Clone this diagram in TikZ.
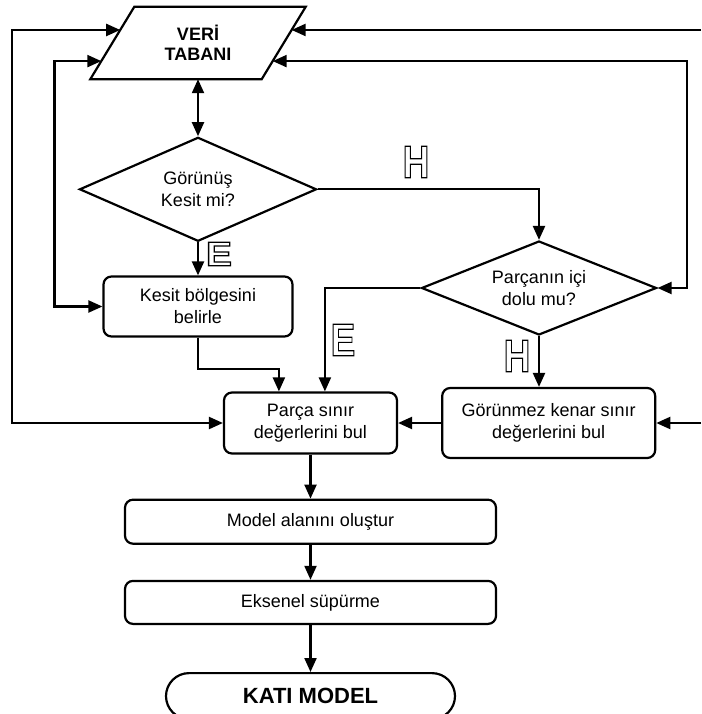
\documentclass[tikz,border=0pt]{standalone}
\usepackage{fontspec}
\setmainfont{Liberation Sans}
\usepackage{graphicx}
\usetikzlibrary{shapes.geometric, shapes.misc, arrows.meta, positioning, calc}
% outlined (hollow) letter: text rendering mode 1 = stroke only
\newcommand{\hollow}[3]{\scalebox{#2}[1]{\fontsize{#1}{#1}\selectfont\bfseries\special{pdf:literal direct 1 Tr 1.2 w}#3\special{pdf:literal direct 0 Tr}}}
\tikzset{
    block/.style={draw, rectangle, rounded corners=8pt, line width=2.2pt, inner sep=0pt, align=center, font=\fontsize{18}{22}\selectfont},
    decision/.style={draw, diamond, line width=2.2pt, inner sep=0pt, align=center, font=\fontsize{18}{22}\selectfont},
    terminal/.style={draw, rounded rectangle, line width=2.2pt, inner sep=0pt, minimum width=289pt, minimum height=46pt, font=\fontsize{22}{26}\selectfont\bfseries},
    arrow/.style={draw, -{Triangle[length=14pt, width=12pt]}, line width=2.2pt},
    darrow/.style={draw, {Triangle[length=14pt, width=12pt]}-{Triangle[length=14pt, width=12pt]}, line width=2.2pt},
    yesno/.style={inner sep=0pt}
}
\begin{document}
\begin{tikzpicture}[x=1pt, y=-1pt]
    \useasboundingbox (0,0) rectangle (701,714);
    \coordinate (edgeR) at (701,0);

    % data base
    \node [inner sep=0pt, minimum width=171pt, minimum height=72pt, align=center, font=\fontsize{18}{20}\selectfont\bfseries] (db) at (198,43) {VERİ\\TABANI};
    \draw [line width=2.2pt] ([xshift=22pt]db.north west) -- ([xshift=22pt]db.north east) -- ([xshift=-22pt]db.south east) -- ([xshift=-22pt]db.south west) -- cycle;
    \coordinate (dbL1) at ($([xshift=22pt]db.north west)!0.32!([xshift=-22pt]db.south west)$);
    \coordinate (dbL2) at ($([xshift=22pt]db.north west)!0.75!([xshift=-22pt]db.south west)$);
    \coordinate (dbR1) at ($([xshift=22pt]db.north east)!0.32!([xshift=-22pt]db.south east)$);
    \coordinate (dbR2) at ($([xshift=22pt]db.north east)!0.75!([xshift=-22pt]db.south east)$);

    \node [decision, aspect=2.28, minimum width=237pt, minimum height=104pt, below=57pt of db] (kesitmi) {Görünüş\\Kesit mi?};
    \node [block, minimum width=189pt, minimum height=60pt, below=33pt of kesitmi] (kesit) {Kesit bölgesini\\belirle};
    \node [decision, aspect=2.5, minimum width=235pt, minimum height=94pt] (dolumu) at (539,288) {Parçanın içi\\dolu mu?};
    \node [block, minimum width=173pt, minimum height=61pt] (parca) at (310.5,423) {Parça sınır\\değerlerini bul};
    \node [block, minimum width=213pt, minimum height=70pt, right=43pt of parca] (gorunmez) {Görünmez kenar sınır\\değerlerini bul};
    \node [block, minimum width=371pt, minimum height=44pt, below=44pt of parca] (model) {Model alanını oluştur};
    \node [block, minimum width=371pt, minimum height=43pt, below=35pt of model] (eksenel) {Eksenel süpürme};
    \node [terminal, below=47pt of eksenel] (kati) {KATI MODEL};

    % H / E labels
    \node [yesno] (h1) at (416,162) {\hollow{46}{0.8}{H}};
    \node [yesno] (e1) at (219,254) {\hollow{34}{1.15}{E}};
    \node [yesno] (e2) at (343,340) {\hollow{46}{0.8}{E}};
    \node [yesno] (h2) at (517,356) {\hollow{46}{0.8}{H}};

    \draw [darrow] (db.south) -- (kesitmi.north);
    \draw [arrow] (kesitmi.south) -- (kesit.north);
    \draw [arrow] (kesitmi.east) -| (dolumu.north);
    \draw [arrow] (kesit.south) -- ++(0,31) -| ([xshift=56pt]parca.north west);
    \draw [arrow] (dolumu.west) -| ([xshift=102pt]parca.north west);
    \draw [arrow] (dolumu.south) -- (dolumu.south |- gorunmez.north);
    \draw [arrow] (gorunmez.west) -- (parca.east);
    \draw [arrow] (parca.south) -- (model.north);
    \draw [arrow] (model.south) -- (eksenel.north);
    \draw [arrow] (eksenel.south) -- (kati.north);

    % feedback lines
    \draw [darrow] (dbL1) -| ([xshift=-211pt]parca.west) -- (parca.west);
    \draw [darrow] (dbL2) -| ([xshift=-48pt]kesit.west) -- (kesit.west);
    \draw [darrow] (dbR2) -| ([xshift=29pt]dolumu.east) -- (dolumu.east);
    \draw [arrow] (dbR1 -| edgeR) -- (dbR1);
    \draw [arrow] (gorunmez.east -| edgeR) -- (gorunmez.east);
\end{tikzpicture}
\end{document}
